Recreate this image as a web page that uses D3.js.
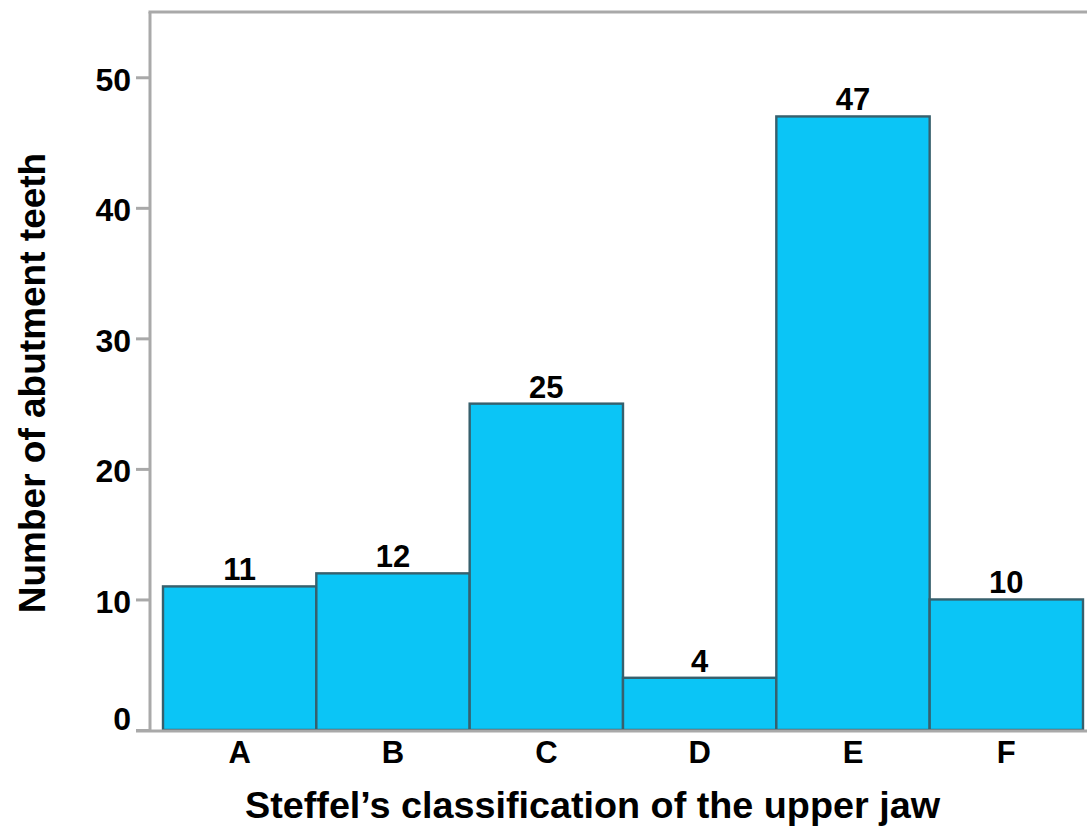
<!DOCTYPE html>
<html>
<head>
<meta charset="utf-8">
<script src="https://cdn.jsdelivr.net/npm/d3@7"></script>
<style>
  html, body { margin: 0; padding: 0; background: #ffffff; }
  svg { display: block; font-family: "Liberation Sans", Arial, sans-serif; }
</style>
</head>
<body>
<svg id="chart" width="1087" height="831"></svg>
<script>
// Steffel's classes of the upper jaw and abutment tooth counts
const categories = ["A", "B", "C", "D", "E", "F"];
const counts = [11, 12, 25, 4, 47, 10];
const yTicks = [0, 10, 20, 30, 40, 50];
const yTitle = "Number of abutment teeth";
const xTitle = "Steffel\u2019s classification of the upper jaw";

const svg = d3.select("#chart");
const W = 1087;
const axisColor = "#a9a9a9";
const frameLeft = 150, frameTop = 12, baseY = 730;

const x = d3.scaleBand().domain(categories).range([163, 1083]).padding(0);
const y = d3.scaleLinear().domain([0, 55]).range([baseY, frameTop]);

// Bars
svg.append("g").selectAll("rect")
  .data(categories.map((c, i) => ({ c, v: counts[i] })))
  .join("rect")
  .attr("x", d => x(d.c))
  .attr("y", d => y(d.v))
  .attr("width", x.bandwidth())
  .attr("height", d => y(0) - y(d.v))
  .attr("fill", "#0bc5f6")
  .attr("stroke", "#37606d")
  .attr("stroke-width", 2.4);

// Value labels above bars
svg.append("g").selectAll("text")
  .data(categories.map((c, i) => ({ c, v: counts[i] })))
  .join("text")
  .attr("x", d => x(d.c) + x.bandwidth() / 2)
  .attr("y", d => y(d.v) - 6)
  .attr("text-anchor", "middle")
  .attr("font-size", 31)
  .attr("font-weight", "bold")
  .attr("fill", "#000")
  .text(d => d.v);

// Y axis
const yAxis = d3.axisLeft(y).tickValues(yTicks).tickSize(14).tickPadding(5).tickFormat(d3.format("d"));
const gy = svg.append("g").attr("transform", `translate(${frameLeft},0)`).call(yAxis);
gy.select(".domain").remove();
gy.selectAll(".tick line").attr("stroke", axisColor).attr("stroke-width", 3);
gy.selectAll(".tick text")
  .attr("font-size", 32)
  .attr("font-weight", "bold")
  .attr("font-family", "Liberation Sans, Arial, sans-serif")
  .attr("fill", "#000")
  .attr("dy", d => d === 0 ? "-0.02em" : "0.40em");

// X axis labels
const xAxis = d3.axisBottom(x).tickSize(0).tickPadding(11);
const gx = svg.append("g").attr("transform", `translate(0,${baseY})`).call(xAxis);
gx.select(".domain").remove();
gx.selectAll(".tick text")
  .attr("font-size", 31)
  .attr("font-weight", "bold")
  .attr("font-family", "Liberation Sans, Arial, sans-serif")
  .attr("fill", "#000");

// Frame lines: left axis, top border, baseline
svg.append("line").attr("x1", frameLeft).attr("x2", frameLeft).attr("y1", frameTop).attr("y2", baseY + 1)
  .attr("stroke", axisColor).attr("stroke-width", 3);
svg.append("line").attr("x1", frameLeft - 1.5).attr("x2", W).attr("y1", frameTop).attr("y2", frameTop)
  .attr("stroke", axisColor).attr("stroke-width", 3);
svg.append("line").attr("x1", 136).attr("x2", W).attr("y1", baseY + 1).attr("y2", baseY + 1)
  .attr("stroke", axisColor).attr("stroke-width", 3);

// Axis titles
svg.append("text")
  .attr("x", 245).attr("y", 818)
  .attr("font-size", 36)
  .attr("font-weight", "bold")
  .attr("textLength", 695)
  .attr("lengthAdjust", "spacingAndGlyphs")
  .attr("fill", "#000")
  .text(xTitle);

svg.append("text")
  .attr("transform", "translate(45,383) rotate(-90)")
  .attr("text-anchor", "middle")
  .attr("font-size", 37)
  .attr("font-weight", "bold")
  .attr("fill", "#000")
  .text(yTitle);
</script>
</body>
</html>
